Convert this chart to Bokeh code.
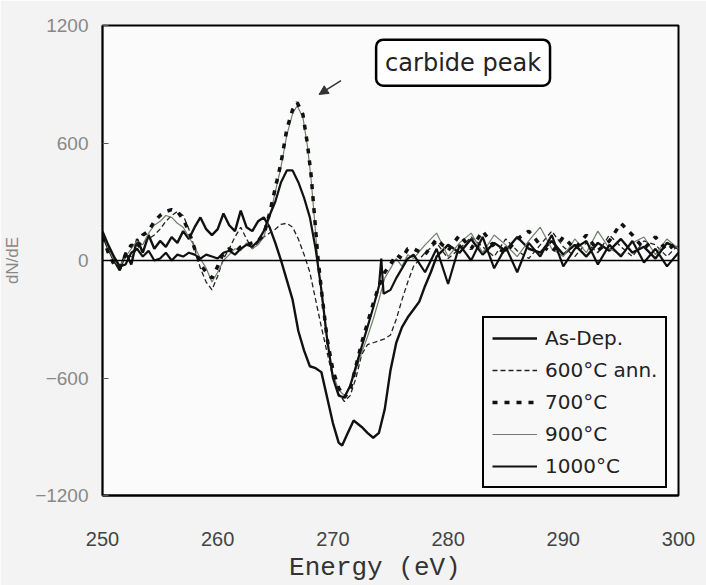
from bokeh.plotting import figure
from bokeh.models import Label, Arrow, NormalHead, Span, Legend, LegendItem, FixedTicker, Range1d
from bokeh.embed import file_html
from bokeh.resources import INLINE

# ---------------- data ----------------
x_asdep = [250, 250.5, 251, 251.5, 252, 252.5, 253, 253.5, 254, 254.5,
           255, 255.5, 256, 256.5, 257, 257.5, 258, 258.5, 259, 259.5,
           260, 260.5, 261, 261.5, 262, 262.5, 263, 263.5, 264, 264.5,
           265, 265.5, 266, 266.5, 267, 267.5, 268, 268.5, 269, 269.5,
           270, 270.5, 270.8, 271.3, 271.8, 272.5, 273, 273.5, 274, 274.5,
           275, 275.5, 276, 276.5, 277, 277.5, 278, 278.5, 279,
           280, 281, 282, 283, 284, 285, 286, 287, 288, 289, 290,
           291, 292, 293, 294, 295, 296, 297, 298, 299, 300]
y_asdep = [130, 60, 0, -50, 40, -20, 110, 40, 130, 60,
           100, 70, 120, 90, 150, 110, 170, 220, 160, 130,
           160, 240, 180, 150, 255, 170, 150, 200, 220, 170,
           90, 0, -100, -200, -360, -460, -540, -550, -570, -700,
           -830, -930, -945, -880, -817, -850, -880, -905, -880, -760,
           -560, -420, -340, -290, -250, -210, -130, -60, 20,
           80, 40, 110, 30, 90, 50, 120, 60, 40, 100, 30,
           80, 20, 90, 50, 110, 40, 70, 10, 90, 60]

x_600 = [250, 250.5, 251, 251.5, 252, 252.5, 253, 253.5, 254, 254.5,
         255, 255.5, 256, 256.5, 257, 257.5, 258, 258.5, 259, 259.5,
         260, 260.5, 261, 261.5, 262, 262.5, 263, 263.5, 264, 264.5,
         265, 265.5, 266, 266.5, 267, 267.5, 268, 268.5, 269, 269.5,
         270, 270.5, 271, 271.5, 272, 272.5, 273, 273.5, 274, 274.5,
         275, 275.5, 276, 276.5, 277,
         278, 279, 280, 281, 282, 283, 284, 285, 286, 287, 288,
         289, 290, 291, 292, 293, 294, 295, 296, 297, 298, 299, 300]
y_600 = [140, 50, 0, -40, 30, 20, 60, 90, 110, 130,
         160, 200, 230, 250, 230, 160, 60, -40, -110, -150,
         -80, 10, 60, 120, 170, 110, 60, 90, 120, 140,
         160, 185, 190, 170, 110, 30, -60, -200, -340, -470,
         -600, -680, -720, -690, -600, -480, -430, -420, -410, -400,
         -380, -300, -200, -110, -30,
         40, 90, 10, 60, 120, 70, 20, 110, 50, 10, 80,
         150, 70, 20, 90, 40, 130, 70, 20, 100, 80, 20, 80]

x_700 = [250, 250.5, 251, 251.5, 252, 252.5, 253, 253.5, 254, 254.5,
         255, 255.5, 256, 256.5, 257, 257.5, 258, 258.5, 259, 259.5,
         260, 260.5, 261, 261.5, 262, 262.5, 263, 263.5, 264,
         264.5, 265, 265.5, 266, 266.5, 266.9, 267.4, 267.8, 268.1, 268.4,
         268.7, 269, 269.5, 270, 270.5, 271, 271.5, 272, 272.5, 273,
         273.5, 274, 274.5, 275, 275.5, 276, 276.5,
         277, 278, 279, 280, 281, 282, 283, 284, 285, 286, 287, 288,
         289, 290, 291, 292, 293, 294, 295, 296, 297, 298, 299, 300]
y_700 = [120, 40, -20, -40, 30, 80, 60, 130, 150, 200,
         230, 250, 260, 250, 210, 150, 60, -20, -60, -90,
         -30, 40, 60, 40, 70, 80, 90, 100, 130,
         240, 370, 500, 670, 770, 807, 745, 590, 440, 230,
         15, -150, -400, -560, -650, -700, -660, -540, -420, -320,
         -220, -130, -60, -20, 30, 10, 60,
         60, 30, 110, 50, 130, 60, 150, 70, 40, 110, 150, 80,
         40, 120, 60, 130, 50, 100, 190, 130, 60, 120, 50, 100]

x_900 = list(x_700)
y_900 = [150, 60, 0, -30, 20, 60, 100, 80, 140, 180,
         200, 230, 220, 190, 170, 120, 70, 10, -40, -110,
         -60, 0, 30, 60, 50, 90, 60, 80, 120,
         220, 350, 480, 640, 750, 790, 730, 580, 420, 210,
         0, -170, -420, -580, -660, -690, -640, -560, -470, -390,
         -300, -200, -90, -40, 10, -30, 30,
         10, 80, 140, 20, 90, 140, 40, 130, 80, 20, 100, 170,
         60, 20, 110, 40, 150, 60, 30, 90, 120, 30, 110, 60]

x_1000 = [250, 250.5, 251, 251.5, 252, 252.5, 253, 253.5, 254, 254.5,
          255, 255.5, 256, 256.5, 257, 257.5, 258, 258.5, 259, 259.5,
          260, 260.5, 261, 261.5, 262, 262.5, 263, 263.5, 264, 264.5,
          265, 265.5, 266, 266.5, 267, 267.5, 268, 268.5, 269, 269.5,
          270, 270.5, 271, 271.5, 272, 272.5, 273, 273.5, 274,
          274.2, 274.4, 275, 275.5, 276, 276.5,
          277, 278, 279, 280, 281, 282, 283, 284, 285, 286, 287, 288,
          289, 290, 291, 292, 293, 294, 295, 296, 297, 298, 299, 300]
y_1000 = [150, 80, 20, -30, -20, 40, 60, 20, 50, 0,
          10, 40, 0, 30, 20, 40, 30, 10, 30, 20,
          10, 40, 50, 30, 60, 80, 70, 100, 150, 230,
          300, 400, 460, 460, 400, 320, 220, 60, -150, -400,
          -600, -690, -700, -640, -540, -440, -340, -240, -130,
          10, -170, -150, -90, -40, 10,
          30, -60, 60, -120, 80, 0, 120, -40, 70, -60, 90, 20,
          130, -30, 60, 100, -20, 80, 20, 100, -10, 60, -30, 40]

y_ticks = [-1200, -600, 0, 600, 1200]
x_ticks = [250, 260, 270, 280, 290, 300]

# ---------------- figure ----------------
p = figure(width=706, height=585, output_backend="svg", toolbar_location=None,
           x_range=Range1d(250, 300), y_range=Range1d(-1200, 1200),
           min_border_left=102, min_border_right=28, min_border_top=25,
           min_border_bottom=88)
p.background_fill_color = "#fbfbfb"
p.border_fill_color = "#f3f3f3"
p.outline_line_color = "black"
p.outline_line_width = 2
p.xgrid.visible = False
p.ygrid.visible = False

p.xaxis.ticker = FixedTicker(ticks=x_ticks)
p.yaxis.ticker = FixedTicker(ticks=y_ticks)
p.xaxis.minor_tick_line_color = None
p.yaxis.minor_tick_line_color = None
p.xaxis.major_tick_line_color = None
p.yaxis.major_tick_in = 6
p.yaxis.major_tick_out = 0
p.yaxis.major_tick_line_color = "#555"
p.xaxis.axis_line_width = 2
p.yaxis.axis_line_width = 1.5

p.xaxis.major_label_text_font = "Liberation Sans"
p.xaxis.major_label_text_font_size = "20px"
p.xaxis.major_label_text_color = "#444"
p.xaxis.major_label_standoff = 30
p.yaxis.major_label_text_font = "Liberation Sans"
p.yaxis.major_label_text_font_size = "19px"
p.yaxis.major_label_text_color = "#888"
p.yaxis.major_label_standoff = 14

p.xaxis.axis_label = "Energy   (eV)"
p.xaxis.axis_label_text_font = "Liberation Mono"
p.xaxis.axis_label_text_font_size = "26px"
p.xaxis.axis_label_text_font_style = "normal"
p.xaxis.axis_label_text_color = "#333"
p.xaxis.axis_label_standoff = 4
p.yaxis.axis_label = "dN/dE"
p.yaxis.axis_label_text_font = "Liberation Sans"
p.yaxis.axis_label_text_font_size = "17px"
p.yaxis.axis_label_text_font_style = "normal"
p.yaxis.axis_label_text_color = "#888"
p.yaxis.axis_label_standoff = 10

p.add_layout(Span(location=0, dimension="width", line_color="black", line_width=1.5))

r_as = p.line(x_asdep, y_asdep, line_color="#111", line_width=2.4)
r_600 = p.line(x_600, y_600, line_color="#222", line_width=1.3, line_dash="5 3")
r_900 = p.line(x_900, y_900, line_color="#6f806a", line_width=1.2)
r_700 = p.line(x_700, y_700, line_color="#111", line_width=3.5, line_dash="5 7")
r_1000 = p.line(x_1000, y_1000, line_color="#111", line_width=2.2)

legend = Legend(items=[
    LegendItem(label="As-Dep.", renderers=[r_as]),
    LegendItem(label="600°C ann.", renderers=[r_600]),
    LegendItem(label="700°C", renderers=[r_700]),
    LegendItem(label="900°C", renderers=[r_900]),
    LegendItem(label="1000°C", renderers=[r_1000]),
], location=(380, 7))
legend.label_text_font = "DejaVu Sans"
legend.label_text_font_size = "20px"
legend.label_text_color = "#222"
legend.label_height = 24
legend.glyph_height = 24
legend.glyph_width = 45
legend.label_standoff = 8
legend.spacing = 8
legend.padding = 8
legend.margin = 0
legend.border_line_color = "black"
legend.border_line_width = 2
legend.border_line_alpha = 1.0
legend.background_fill_color = "#f8f8f8"
legend.background_fill_alpha = 1.0
p.add_layout(legend, "center")

p.add_layout(Label(x=281.3, y=1010, text="carbide peak", text_align="center",
                   text_baseline="middle", text_font="DejaVu Sans",
                   text_font_size="24px", text_color="#222",
                   border_line_color="black", border_line_width=2.5,
                   background_fill_color="white", padding=9, border_radius=7))

p.add_layout(Arrow(end=NormalHead(size=9, fill_color="#333", line_color="#333"),
                   x_start=270.7, y_start=919, x_end=268.8, y_end=848,
                   line_color="#333", line_width=1.5))

open("out.html", "w").write(file_html(p, INLINE))
